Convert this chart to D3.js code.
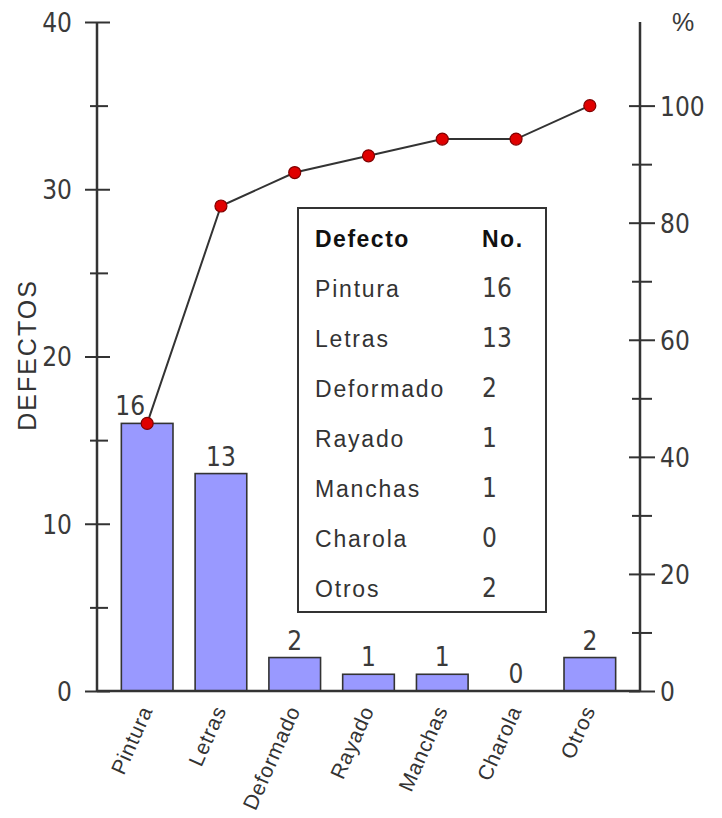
<!DOCTYPE html>
<html>
<head>
<meta charset="utf-8">
<script src="https://cdn.jsdelivr.net/npm/d3@7/dist/d3.min.js"></script>
<style>
  html, body { margin: 0; padding: 0; background: #fff; }
  svg { display: block; }
  .num { font-family: "Liberation Sans Narrow", "Arial Narrow", "DejaVu Sans Condensed", sans-serif; }
  .txt { font-family: "Liberation Sans", Arial, sans-serif; }
</style>
</head>
<body>
<svg id="chart" width="722" height="818"></svg>
<script>
const categories = ["Pintura", "Letras", "Deformado", "Rayado", "Manchas", "Charola", "Otros"];
const defects = [16, 13, 2, 1, 1, 0, 2];
const leftTicks = [0, 5, 10, 15, 20, 25, 30, 35, 40];
const leftTickLabels = ["0", "", "10", "", "20", "", "30", "", "40"];
const rightTicks = [0, 10, 20, 30, 40, 50, 60, 70, 80, 90, 100];
const rightTickLabels = ["0", "", "20", "", "40", "", "60", "", "80", "", "100"];
const tableHeader = ["Defecto", "No."];

const total = d3.sum(defects);
const cumulative = d3.cumsum(defects);
const cumPct = Array.from(cumulative, c => c / total * 100);

const svg = d3.select("#chart");
const ink = "#333";
const numInk = "#3a3a3a";

const pLeft = 97, pRight = 640, pTop = 22, pBottom = 691;
const yMax = 40;

const x = d3.scaleBand().domain(categories).range([pLeft, pRight]).paddingInner(0.3).paddingOuter(0.33);
const y = d3.scaleLinear().domain([0, yMax]).range([pBottom, pTop]);
const y2 = d3.scaleLinear().domain([0, yMax / total * 100]).range([pBottom, pTop]);

// Bars
svg.append("g").selectAll("rect").data(categories).join("rect")
  .attr("x", d => x(d))
  .attr("width", x.bandwidth())
  .attr("y", (d, i) => y(defects[i]))
  .attr("height", (d, i) => y(0) - y(defects[i]))
  .attr("fill", "#9999ff")
  .attr("stroke", ink)
  .attr("stroke-width", 1.6);

// Left axis
const gL = svg.append("g").attr("transform", `translate(${pLeft},0)`)
  .call(d3.axisLeft(y).tickValues(leftTicks).tickSize(0).tickPadding(25)
    .tickFormat((d, i) => leftTickLabels[i]));
gL.select(".domain").remove();
gL.selectAll(".tick line")
  .attr("x1", (d, i) => leftTickLabels[i] ? -12 : -7)
  .attr("x2", (d, i) => leftTickLabels[i] ? 13 : 11)
  .attr("stroke", ink).attr("stroke-width", 2);
gL.selectAll(".tick text").attr("class", "num").attr("font-size", 26).attr("fill", numInk).attr("dy", "0.36em");
svg.append("line").attr("x1", pLeft).attr("x2", pLeft).attr("y1", pTop).attr("y2", pBottom)
  .attr("stroke", ink).attr("stroke-width", 2.5);

// Right axis
const gR = svg.append("g").attr("transform", `translate(${pRight},0)`)
  .call(d3.axisRight(y2).tickValues(rightTicks).tickSize(0).tickPadding(20)
    .tickFormat((d, i) => rightTickLabels[i]));
gR.select(".domain").remove();
gR.selectAll(".tick line")
  .attr("x1", (d, i) => rightTickLabels[i] ? -11 : -8)
  .attr("x2", (d, i) => rightTickLabels[i] ? 15 : 12)
  .attr("stroke", ink).attr("stroke-width", 2);
gR.selectAll(".tick text").attr("class", "num").attr("font-size", 26).attr("fill", numInk).attr("dy", "0.36em");
svg.append("line").attr("x1", pRight).attr("x2", pRight).attr("y1", pTop).attr("y2", pBottom)
  .attr("stroke", ink).attr("stroke-width", 2.5);

// Baseline
svg.append("line").attr("x1", pLeft).attr("x2", pRight).attr("y1", pBottom).attr("y2", pBottom)
  .attr("stroke", ink).attr("stroke-width", 2.5);

// Axis titles
svg.append("text").attr("class", "txt")
  .attr("transform", `translate(36,355) rotate(-90)`)
  .attr("text-anchor", "middle").attr("font-size", 25).attr("letter-spacing", 2)
  .attr("fill", ink).text("DEFECTOS");
svg.append("text").attr("class", "txt")
  .attr("x", 683).attr("y", 31).attr("text-anchor", "middle")
  .attr("font-size", 25).attr("fill", numInk).text("%");

// Value labels
svg.append("g").selectAll("text").data(categories).join("text")
  .attr("class", "num")
  .attr("x", (d, i) => x(d) + x.bandwidth() / 2 + (i === 0 ? -17 : 0))
  .attr("y", (d, i) => y(defects[i]) - 8)
  .attr("text-anchor", "middle")
  .attr("font-size", 26).attr("fill", numInk)
  .text((d, i) => defects[i]);

// X labels
svg.append("g").selectAll("text").data(categories).join("text")
  .attr("class", "txt")
  .attr("transform", d => `translate(${x(d) + x.bandwidth() / 2 + 6},710) rotate(-66)`)
  .attr("text-anchor", "end")
  .attr("font-size", 21).attr("letter-spacing", 0.8).attr("fill", ink)
  .text(d => d);

// Cumulative line
const line = d3.line()
  .x((d, i) => x(categories[i]) + x.bandwidth() / 2)
  .y(d => y2(d));
svg.append("path").datum(cumPct)
  .attr("d", line).attr("fill", "none").attr("stroke", ink).attr("stroke-width", 2);
svg.append("g").selectAll("circle").data(cumPct).join("circle")
  .attr("cx", (d, i) => x(categories[i]) + x.bandwidth() / 2)
  .attr("cy", d => y2(d))
  .attr("r", 6)
  .attr("fill", "#e00000").attr("stroke", "#800000").attr("stroke-width", 1.2);

// Table box
const box = svg.append("g");
box.append("rect").attr("x", 298).attr("y", 208).attr("width", 248).attr("height", 404)
  .attr("fill", "#fff").attr("stroke", ink).attr("stroke-width", 2);
const rowY = d3.scaleLinear().domain([0, 1]).range([247, 297]);
box.append("text").attr("class", "txt").attr("x", 315).attr("y", rowY(0))
  .attr("font-size", 23).attr("font-weight", "bold").attr("letter-spacing", 1.5).attr("fill", "#111")
  .text(tableHeader[0]);
box.append("text").attr("class", "txt").attr("x", 482).attr("y", rowY(0))
  .attr("font-size", 23).attr("font-weight", "bold").attr("letter-spacing", 1.5).attr("fill", "#111")
  .text(tableHeader[1]);
box.selectAll("text.rowname").data(categories).join("text")
  .attr("class", "txt rowname").attr("x", 315).attr("y", (d, i) => rowY(i + 1))
  .attr("font-size", 23).attr("letter-spacing", 1.8).attr("fill", ink).text(d => d);
box.selectAll("text.rowval").data(defects).join("text")
  .attr("class", "num rowval").attr("x", 482).attr("y", (d, i) => rowY(i + 1))
  .attr("font-size", 26).attr("fill", numInk).text(d => d);
</script>
</body>
</html>
